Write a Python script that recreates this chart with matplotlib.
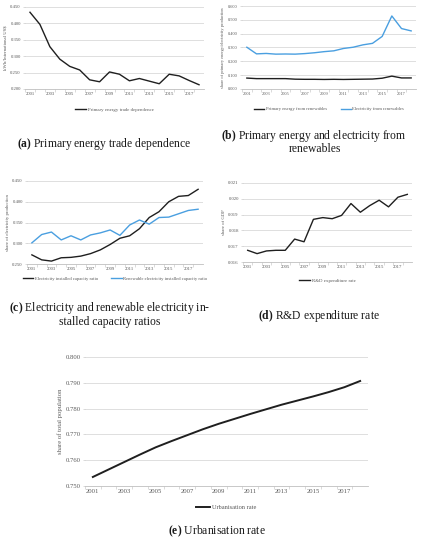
import matplotlib
matplotlib.use("Agg")
import matplotlib.pyplot as plt
from matplotlib.ticker import FormatStrFormatter, FixedLocator

plt.rcParams['font.family'] = 'Liberation Serif'
plt.rcParams['mathtext.fontset'] = 'custom'
plt.rcParams['mathtext.bf'] = 'Liberation Serif:bold'
plt.rcParams['mathtext.rm'] = 'Liberation Serif'

years = list(range(2001, 2019))
year_labels = [str(y) if (y - 2001) % 2 == 0 else "" for y in years]

trade_dependence = [0.434, 0.397, 0.329, 0.291, 0.269, 0.258, 0.228, 0.222, 0.252,
                    0.245, 0.225, 0.232, 0.224, 0.216, 0.245, 0.240, 0.226, 0.213]

primary_renewables = [0.079, 0.075, 0.075, 0.075, 0.075, 0.071, 0.070, 0.070, 0.069,
                      0.070, 0.069, 0.070, 0.071, 0.072, 0.078, 0.093, 0.080, 0.080]
electricity_renewables = [0.302, 0.254, 0.257, 0.252, 0.253, 0.252, 0.256, 0.262, 0.270,
                          0.276, 0.293, 0.302, 0.319, 0.330, 0.380, 0.528, 0.437, 0.420]

capacity_ratio = [0.272, 0.260, 0.257, 0.265, 0.266, 0.269, 0.275, 0.284, 0.297,
                  0.312, 0.318, 0.335, 0.362, 0.376, 0.400, 0.413, 0.415, 0.430]
renewable_capacity_ratio = [0.301, 0.321, 0.327, 0.308, 0.318, 0.308, 0.320, 0.325, 0.332,
                            0.319, 0.344, 0.356, 0.346, 0.362, 0.363, 0.371, 0.379, 0.382]

rd_rate = [0.01674, 0.01653, 0.01670, 0.01674, 0.01674, 0.01745, 0.01728, 0.01870, 0.01881,
           0.01874, 0.01895, 0.01970, 0.01915, 0.01957, 0.01991, 0.01949, 0.02010, 0.02028]

urbanisation = [0.7535, 0.7564, 0.7593, 0.7622, 0.7650, 0.7674, 0.7697, 0.7720, 0.7741,
                0.7760, 0.7779, 0.7797, 0.7815, 0.7831, 0.7847, 0.7864, 0.7883, 0.7907]

BLACK = '#1f1f1f'
BLUE = '#4a9fe0'

W, H = 424, 550
fig = plt.figure(figsize=(W / 100, H / 100), dpi=100)


def make_axes(left, top, right, bottom):
    return fig.add_axes([left / W, 1 - bottom / H, (right - left) / W, (bottom - top) / H])


def style(ax, ylim, ystep, ylabel, fs, fmt='%.3f'):
    ax.set_xlim(years[0] - 0.5, years[-1] + 0.5)
    ax.set_ylim(*ylim)
    n = round((ylim[1] - ylim[0]) / ystep)
    ax.yaxis.set_major_locator(FixedLocator([ylim[0] + i * ystep for i in range(n + 1)]))
    ax.yaxis.set_major_formatter(FormatStrFormatter(fmt))
    ax.set_xticks(years)
    ax.set_xticklabels(year_labels)
    ax.xaxis.set_minor_locator(FixedLocator([y + 0.5 for y in years[:-1]] + [years[0] - 0.5]))
    ax.tick_params(axis='x', which='major', length=0, labelsize=fs, colors='#595959', pad=2)
    ax.tick_params(axis='x', which='minor', length=2, width=0.4, color='#bfbfbf')
    ax.tick_params(axis='y', length=1.5, width=0.4, color='#bfbfbf', labelsize=fs,
                   labelcolor='#595959', pad=1.5)
    ax.grid(axis='y', color='#d9d9d9', linewidth=0.6)
    ax.set_axisbelow(True)
    for s in ['top', 'right', 'left']:
        ax.spines[s].set_visible(False)
    ax.spines['bottom'].set_color('#bfbfbf')
    ax.spines['bottom'].set_linewidth(0.6)
    ax.set_ylabel(ylabel, fontsize=fs, color='#595959', labelpad=2)


def legend(ax, fs, ncol=1, y=-0.17):
    ax.legend(loc='upper center', bbox_to_anchor=(0.5, y), ncol=ncol, frameon=False,
              fontsize=fs, handlelength=2.2, handletextpad=0.3, columnspacing=3,
              labelcolor='#595959')


# (a)
ax = make_axes(25, 7, 204, 89)
ax.plot(years, trade_dependence, color=BLACK, lw=1.0, label='Primary energy trade dependence')
style(ax, (0.2, 0.45), 0.05, 'kWh/International US$', 3.4)
legend(ax, 3.5)

# (b)
ax = make_axes(242, 6, 416, 89)
ax.plot(years, primary_renewables, color=BLACK, lw=1.0, label='Primary energy from renewables')
ax.plot(years, electricity_renewables, color=BLUE, lw=1.0, label='Electricity from renewables')
style(ax, (0.0, 0.6), 0.1, 'share of primary energy/electricity production', 3.2)
legend(ax, 3.3, ncol=2)

# (c)
ax = make_axes(27, 181, 203, 264)
ax.plot(years, capacity_ratio, color=BLACK, lw=1.0, label='Electricity installed capacity ratio')
ax.plot(years, renewable_capacity_ratio, color=BLUE, lw=1.0,
        label='Renewable electricity installed capacity ratio')
style(ax, (0.25, 0.45), 0.05, 'share of electricity production', 3.4)
legend(ax, 3.3, ncol=2, y=-0.1)

# (d)
ax = make_axes(243, 183, 412, 262)
ax.plot(years, rd_rate, color=BLACK, lw=1.0, label='R&D expenditure rate')
style(ax, (0.016, 0.021), 0.001, 'share of GDP', 3.4)
legend(ax, 3.5, y=-0.15)

# (e)
ax = make_axes(85, 357, 368, 486)
ax.plot(years, urbanisation, color=BLACK, lw=1.4, label='Urbanisation rate')
style(ax, (0.75, 0.80), 0.01, 'share of total population', 4.8)
legend(ax, 4.6, y=-0.1)

captions = [
    (104, 144, r'$\mathbf{(a)}$ Primary energy trade dependence'),
    (314, 136, r'$\mathbf{(b)}$ Primary energy and electricity from'),
    (315, 149, 'renewables'),
    (110, 308, r'$\mathbf{(c)}$ Electricity and renewable electricity in-'),
    (110, 322, 'stalled capacity ratios'),
    (319, 316, r'$\mathbf{(d)}$ R&D expenditure rate'),
    (217, 531, r'$\mathbf{(e)}$ Urbanisation rate'),
]
for x, y, t in captions:
    fig.text(x / W, 1 - y / H, t, ha='center', va='center', fontsize=8.4, color='#1a1a1a')

fig.savefig('out.png', dpi=100)
